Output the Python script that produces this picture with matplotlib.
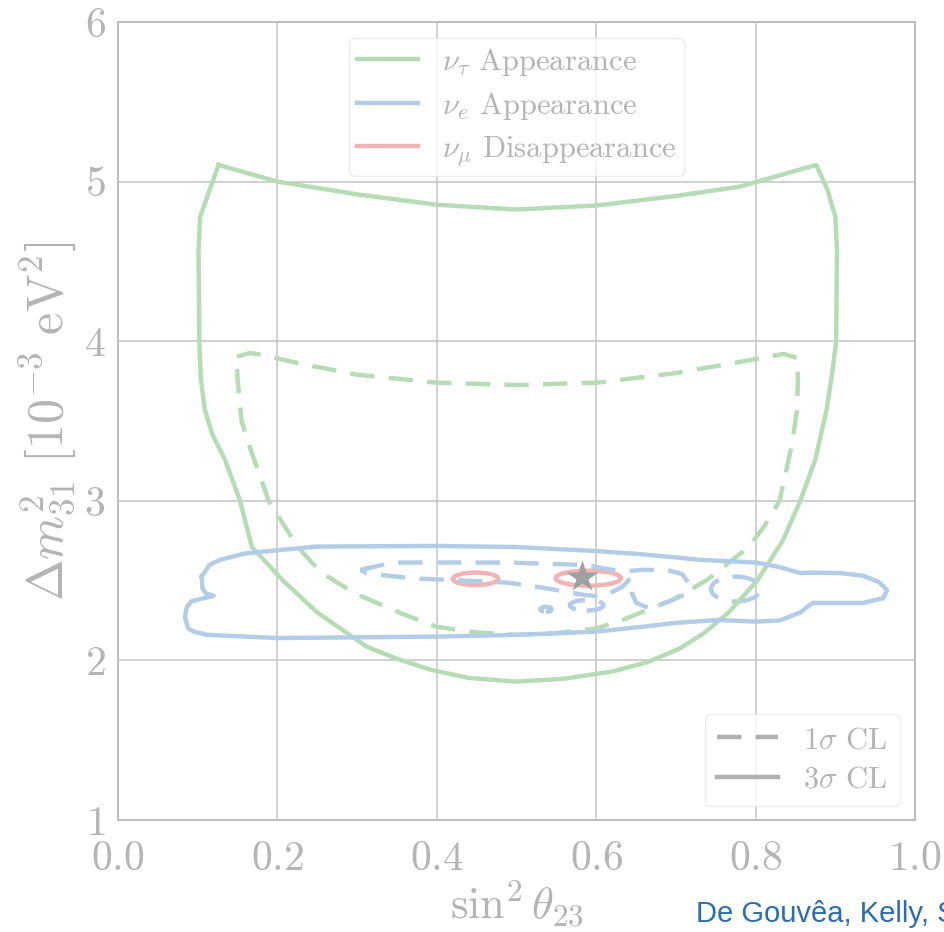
import matplotlib
matplotlib.use("Agg")
import matplotlib.pyplot as plt
from matplotlib.lines import Line2D
from matplotlib.patches import Ellipse

plt.rcParams['mathtext.fontset'] = 'cm'
plt.rcParams['font.family'] = 'serif'
plt.rcParams['font.serif'] = ['cmr10']
plt.rcParams['axes.unicode_minus'] = False
plt.rcParams['axes.formatter.use_mathtext'] = True

# nu_tau appearance, 3 sigma (closed contour)
tau3_x = [0.126, 0.2, 0.3, 0.4, 0.5, 0.6, 0.7, 0.78, 0.876,
          0.890, 0.900, 0.902, 0.901, 0.896, 0.889, 0.875, 0.856, 0.834, 0.802, 0.766,
          0.735, 0.705, 0.665, 0.620, 0.560, 0.499, 0.440, 0.393, 0.350, 0.312, 0.250,
          0.207, 0.168, 0.153, 0.134, 0.118, 0.109, 0.104, 0.102, 0.101, 0.103, 0.126]
tau3_y = [5.104, 5.00, 4.92, 4.855, 4.825, 4.85, 4.91, 4.968, 5.104,
          4.95, 4.78, 4.57, 4.00, 3.80, 3.57, 3.26, 3.00, 2.75, 2.50, 2.30,
          2.17, 2.075, 1.99, 1.93, 1.885, 1.867, 1.89, 1.94, 2.01, 2.086, 2.30,
          2.50, 2.71, 3.00, 3.26, 3.42, 3.57, 3.757, 4.00, 4.57, 4.78, 5.104]

# nu_tau appearance, 1 sigma
tau1_x = [0.149, 0.166, 0.18, 0.228, 0.3, 0.4, 0.5, 0.6, 0.7, 0.78, 0.835, 0.852,
          0.853, 0.852, 0.845, 0.830, 0.812, 0.792, 0.739, 0.696, 0.633, 0.600, 0.55, 0.499,
          0.45, 0.400, 0.355, 0.297, 0.255, 0.225, 0.189, 0.165, 0.155, 0.150, 0.149]
tau1_y = [3.903, 3.926, 3.915, 3.86, 3.79, 3.74, 3.725, 3.74, 3.80, 3.87, 3.92, 3.895,
          3.757, 3.57, 3.34, 3.00, 2.85, 2.713, 2.504, 2.38, 2.253, 2.20, 2.17, 2.16,
          2.175, 2.21, 2.295, 2.42, 2.55, 2.713, 3.00, 3.34, 3.50, 3.757, 3.903]

# nu_e appearance, 3 sigma
e3_x = [0.105, 0.115, 0.128, 0.16, 0.2, 0.249, 0.4, 0.5, 0.6, 0.657, 0.70, 0.729, 0.8, 0.83,
        0.856, 0.868, 0.906, 0.935, 0.955, 0.965, 0.960, 0.935, 0.872, 0.868, 0.856, 0.83,
        0.8, 0.753, 0.70, 0.657, 0.6, 0.5, 0.4, 0.2, 0.112, 0.095, 0.088, 0.084, 0.086,
        0.092, 0.108, 0.120, 0.110, 0.106, 0.105]
e3_y = [2.525, 2.60, 2.63, 2.67, 2.69, 2.713, 2.717, 2.71, 2.685, 2.665, 2.645, 2.63, 2.613,
        2.585, 2.547, 2.55, 2.547, 2.53, 2.49, 2.44, 2.39, 2.36, 2.36, 2.347, 2.30, 2.25,
        2.243, 2.253, 2.235, 2.21, 2.18, 2.16, 2.149, 2.14, 2.16, 2.18, 2.20, 2.27, 2.33,
        2.37, 2.39, 2.405, 2.42, 2.45, 2.525]

# nu_e appearance, 1 sigma: main island
e1_x = [0.304, 0.345, 0.489, 0.585, 0.633, 0.657, 0.690, 0.708, 0.716, 0.710, 0.691, 0.667,
        0.650, 0.645, 0.643, 0.633, 0.609, 0.585, 0.537, 0.489, 0.417, 0.369, 0.312, 0.304]
e1_y = [2.567, 2.613, 2.613, 2.598, 2.556, 2.567, 2.565, 2.54, 2.483, 2.41, 2.368, 2.326,
        2.36, 2.42, 2.515, 2.462, 2.40, 2.41, 2.452, 2.487, 2.504, 2.514, 2.546, 2.567]

# nu_e appearance, 1 sigma: small islands (centre x, centre y, half width, half height)
e1_isl_x = [0.775, 0.588, 0.537]
e1_isl_y = [2.447, 2.345, 2.32]
e1_isl_w = [0.031, 0.021, 0.007]
e1_isl_h = [0.078, 0.033, 0.016]

# nu_mu disappearance, 1 sigma islands
mu1_x = [0.4485, 0.590]
mu1_y = [2.511, 2.515]
mu1_w = [0.0285, 0.041]
mu1_h = [0.039, 0.047]

best_fit = (0.582, 2.52)

xticks = [0.0, 0.2, 0.4, 0.6, 0.8, 1.0]
yticks = [1, 2, 3, 4, 5, 6]

green = '#b5dcb5'
blue = '#b3cde8'
red = '#f0b4b4'
txt = '#b4b4b4'
lw = 3.2
dash = (0, (5.5, 3.2))

fig = plt.figure(figsize=(9.45, 9.32), dpi=100)
ax = fig.add_axes([0.1249, 0.1202, 0.8434, 0.8562])

ax.plot(tau3_x, tau3_y, color=green, lw=lw, solid_joinstyle='round')
ax.plot(tau1_x, tau1_y, color=green, lw=lw, linestyle=dash)
ax.plot(e3_x, e3_y, color=blue, lw=lw, solid_joinstyle='round')
ax.plot(e1_x, e1_y, color=blue, lw=lw, linestyle=dash)
for cx, cy, w, h in zip(e1_isl_x, e1_isl_y, e1_isl_w, e1_isl_h):
    ax.add_patch(Ellipse((cx, cy), 2 * w, 2 * h, fill=False, edgecolor=blue,
                         lw=lw, linestyle=dash))
for cx, cy, w, h in zip(mu1_x, mu1_y, mu1_w, mu1_h):
    ax.add_patch(Ellipse((cx, cy), 2 * w, 2 * h, fill=False, edgecolor=red, lw=lw))
ax.plot(*best_fit, marker='*', ms=24, color='#a0a0a0', mec='none', zorder=5)

ax.set_xlim(0, 1)
ax.set_ylim(1, 6)
ax.set_xticks(xticks)
ax.set_yticks(yticks)
ax.set_xticklabels(['$%.1f$' % v for v in xticks])
ax.set_yticklabels(['$%d$' % v for v in yticks])
ax.tick_params(length=0, labelsize=30, colors=txt)
ax.tick_params(axis='x', pad=15)
ax.tick_params(axis='y', pad=9)
ax.grid(True, color='#c8c8c8', lw=1.2)
ax.set_axisbelow(True)
for s in ax.spines.values():
    s.set_color('#bdbdbd')
    s.set_linewidth(1.4)

ax.set_xlabel(r'$\sin^2\theta_{23}$', fontsize=32, color=txt, labelpad=0)
ax.set_ylabel(r'$\Delta m^2_{31}\ [10^{-3}\ \mathrm{eV}^2]$', fontsize=36, color=txt, labelpad=4)

h1 = [Line2D([], [], color=green, lw=lw),
      Line2D([], [], color=blue, lw=lw),
      Line2D([], [], color=red, lw=lw)]
leg1 = ax.legend(h1, [r'$\nu_\tau$ Appearance', r'$\nu_e$ Appearance', r'$\nu_\mu$ Disappearance'],
                 loc='upper center', bbox_to_anchor=(0.5, 0.98), fontsize=22, frameon=True,
                 fancybox=True, edgecolor='#e6e6e6', labelcolor=txt, handlelength=2.0,
                 borderpad=0.25, labelspacing=0.4, borderaxespad=0)
ax.add_artist(leg1)

h2 = [Line2D([], [], color='#b0b0b0', lw=lw, linestyle=dash),
      Line2D([], [], color='#b0b0b0', lw=lw)]
ax.legend(h2, [r'$1\sigma$ CL', r'$3\sigma$ CL'], loc='lower right', fontsize=22,
          frameon=True, fancybox=True, edgecolor='#e6e6e6', labelcolor=txt,
          handlelength=2.0, borderpad=0.4, labelspacing=0.4, borderaxespad=0,
          bbox_to_anchor=(0.981, 0.0175))

fig.text(0.737, 0.011, 'De Gouvêa, Kelly, Stenico', color='#2a6db5', fontsize=21,
         family=['Liberation Sans Narrow', 'Liberation Sans', 'DejaVu Sans'])

fig.savefig('out.png', dpi=100)
